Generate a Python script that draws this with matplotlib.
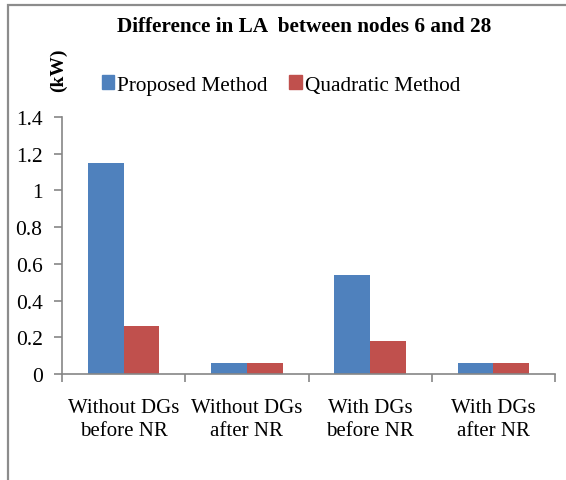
#!/usr/bin/env python3
"""Difference in LA between nodes 6 and 28: proposed vs quadratic method."""

import matplotlib.pyplot as plt
from matplotlib.patches import Patch, Rectangle
import numpy as np

plt.rcParams["font.family"] = ["Liberation Serif", "DejaVu Serif"]

categories = ["Without DGs\nbefore NR", "Without DGs\nafter NR",
              "With DGs\nbefore NR", "With DGs\nafter NR"]
proposed = [1.15, 0.06, 0.54, 0.06]
quadratic = [0.26, 0.06, 0.18, 0.06]
yticks = [0, 0.2, 0.4, 0.6, 0.8, 1, 1.2, 1.4]
ytick_labels = ["0", "0.2", "0.4", "0.6", "0.8", "1", "1.2", "1.4"]

blue = "#4F81BD"
red = "#C0504D"
axis_gray = "#868686"

W, H = 566, 481
fig = plt.figure(figsize=(W / 100, H / 100), dpi=100)
fig.patch.set_facecolor("white")

# outer chart frame (runs off the right and bottom edges)
fig.patches.append(Rectangle((8 / W, -0.1), 1.2, 1 - 6 / H + 0.1,
                             transform=fig.transFigure, fill=False,
                             edgecolor="#8C8C8C", linewidth=1.6))

ax = fig.add_axes([62 / W, 1 - 375 / H, (555 - 62) / W, (375 - 118) / H])
x = np.arange(len(categories))
width = 0.29
ax.bar(x - width / 2, proposed, width, color=blue, label="Proposed Method")
ax.bar(x + width / 2, quadratic, width, color=red, label="Quadratic Method")

ax.set_xlim(-0.5, len(categories) - 0.5)
ax.set_ylim(0, 1.4)
ax.set_yticks(yticks, ytick_labels)
ax.set_xticks(np.arange(len(categories) + 1) - 0.5)
ax.set_xticklabels([])
ax.set_xticks(x, categories, minor=True)
for lbl in ax.get_xticklabels(minor=True):
    lbl.set_linespacing(1.3)
ax.tick_params(axis="x", which="minor", length=0, pad=17, labelsize=15)
ax.tick_params(axis="x", which="major", length=6, width=1.2, color=axis_gray)
ax.tick_params(axis="y", length=6, width=1.2, color=axis_gray, labelsize=15.5, pad=8)
ax.spines[["top", "right"]].set_visible(False)
for side in ("left", "bottom"):
    ax.spines[side].set_color(axis_gray)
    ax.spines[side].set_linewidth(1.2)

fig.text(304 / W, 1 - 27 / H, "Difference in LA  between nodes 6 and 28",
         ha="center", va="center", fontsize=15.3, fontweight="bold")
fig.text(58 / W, 1 - 70 / H, "(kW)", rotation=90, ha="center", va="center",
         fontsize=14, fontweight="bold")

handles = [Patch(color=blue), Patch(color=red)]
fig.legend(handles, ["Proposed Method", "Quadratic Method"],
           loc="center", bbox_to_anchor=(281 / W, 1 - 86 / H), ncol=2,
           frameon=False, fontsize=15.3, handlelength=0.6, handleheight=0.6,
           handletextpad=0.15, columnspacing=1.0, borderpad=0)

fig.savefig("out.png", facecolor="white")
